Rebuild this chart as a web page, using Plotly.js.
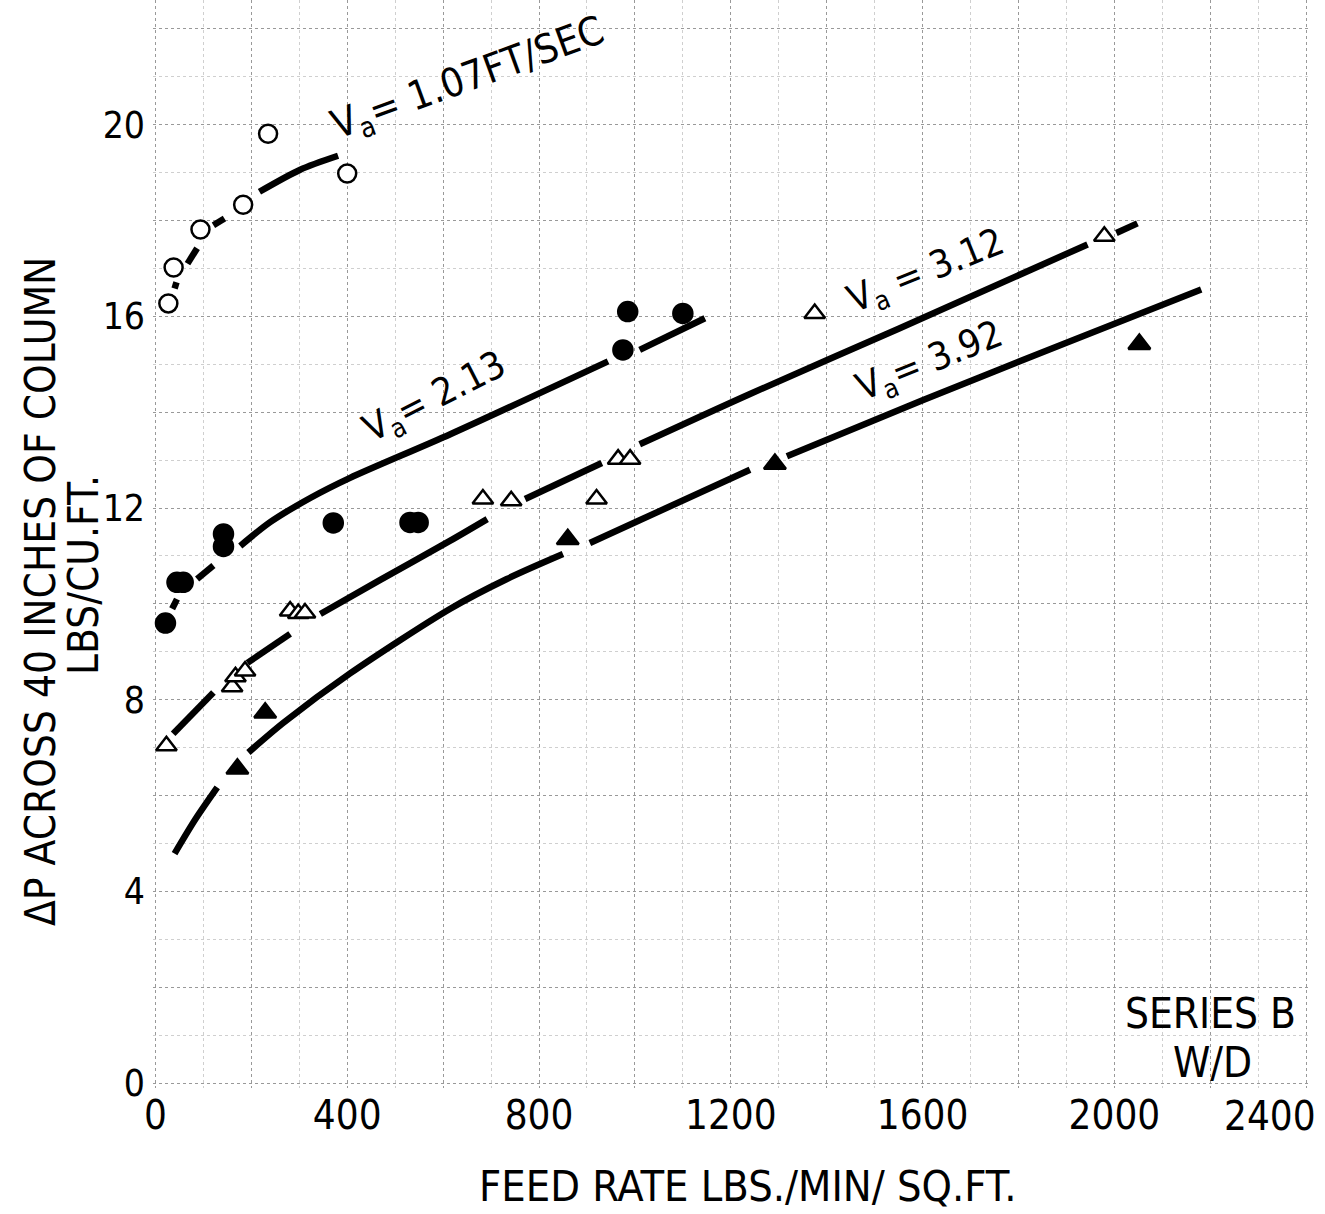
<!DOCTYPE html>
<html>
<head>
<meta charset="utf-8">
<script src="https://cdn.plot.ly/plotly-3.0.1.min.js"></script>
<style>html,body{margin:0;padding:0;background:#fff;}#chart{width:1325px;height:1214px;}</style>
</head>
<body>
<div id="chart"></div>
<script>
// ---- data ----
// Va = 1.07 ft/sec (open circles)
const va107X = [27, 38, 94, 183, 235, 400];
const va107Y = [16.27, 17.02, 17.81, 18.33, 19.81, 18.98];
const va107CurveX = [40, 44, null, 67, 87, null, 121, 144, null, 217, 302, 381];
const va107CurveY = [16.58, 16.71, null, 17.1, 17.42, null, 17.9, 18.04, null, 18.6, 19.06, 19.35];

// Va = 2.13 (filled circles)
const va213X = [21, 45, 58, 142, 142, 371, 531, 548, 975, 985, 1100];
const va213Y = [9.6, 10.45, 10.45, 11.46, 11.2, 11.69, 11.7, 11.7, 15.3, 16.1, 16.06];
const va213CurveX = [35, 45, null, 87, 121, null, 177, 240, 323, 406, 615, 944, null, 1010, 1146];
const va213CurveY = [9.9, 10.1, null, 10.52, 10.8, null, 11.21, 11.71, 12.21, 12.63, 13.54, 15.06, null, 15.3, 15.96];

// Va = 3.12 (open triangles)
const va312X = [23, 160, 167, 187, 281, 298, 312, 683, 742, 920, 965, 990, 1375, 1979];
const va312Y = [7.04, 8.27, 8.48, 8.6, 9.85, 9.8, 9.81, 12.19, 12.15, 12.19, 13.02, 13.02, 16.06, 17.67];
const va312CurveX = [37, 121, null, 192, 281, null, 344, 469, 615, 692, null, 771, 931, null, 1010, 1240, 1550, 1944, null, 2004, 2048];
const va312CurveY = [7.29, 8.15, null, 8.77, 9.375, null, 9.79, 10.5, 11.32, 11.77, null, 12.19, 12.94, null, 13.33, 14.38, 15.74, 17.5, null, 17.74, 17.94];

// Va = 3.92 (filled triangles)
const va392X = [171, 229, 860, 1292, 2052];
const va392Y = [6.56, 7.73, 11.35, 12.92, 15.42];
const va392CurveX = [40, 83, 129, null, 194, 267, 406, 615, 733, 850, null, 906, 1240, null, 1317, 1600, 1900, 2181];
const va392CurveY = [4.79, 5.5, 6.17, null, 6.9, 7.52, 8.55, 9.9, 10.52, 11.04, null, 11.27, 12.8, null, 13.08, 14.25, 15.45, 16.56];

const xTickVals = [0, 200, 400, 600, 800, 1000, 1200, 1400, 1600, 1800, 2000, 2200, 2400];
const xTickText = ['0', '', '400', '', '800', '', '1200', '', '1600', '', '2000', '', ''];
const xLastTickLabel = '2400';
const yTickVals = [0, 2, 4, 6, 8, 10, 12, 14, 16, 18, 20, 22];
const yTickText = ['0', '', '4', '', '8', '', '12', '', '16', '', '20', ''];

// ---- styling ----
const FONT = '"DejaVu Sans Condensed", "Liberation Sans Narrow", "DejaVu Sans", sans-serif';
const LW = 6.5;

function curve(x, y) {
  return {x: x, y: y, mode: 'lines', type: 'scatter', connectgaps: false,
    line: {color: '#000', width: LW, shape: 'spline', smoothing: 0.8}, hoverinfo: 'skip', showlegend: false};
}
function pts(x, y, symbol, fill, size) {
  return {x: x, y: y, mode: 'markers', type: 'scatter', showlegend: false,
    marker: {symbol: symbol, size: size, color: fill, line: {color: '#000', width: 2.5}}};
}

const traces = [
  curve(va107CurveX, va107CurveY),
  curve(va213CurveX, va213CurveY),
  curve(va312CurveX, va312CurveY),
  curve(va392CurveX, va392CurveY),
  pts(va107X, va107Y, 'circle', '#fff', 18),
  pts(va213X, va213Y, 'circle', '#000', 19),
  pts(va312X, va312Y, 'triangle-up', '#fff', 18),
  pts(va392X, va392Y, 'triangle-up', '#000', 19)
];

const W = 1325, H = 1214, ML = 153, MR = 14, MT = 0, MB = 126;
const PW = W - ML - MR, PH = H - MT - MB;
function px(xp) { return (xp - ML) / PW; }
function py(yp) { return (H - MB - yp) / PH; }

function label(text, x, y, size, angle) {
  return {text: text, xref: 'paper', yref: 'paper', x: px(x), y: py(y), textangle: angle || 0,
    showarrow: false, font: {size: size, family: FONT, color: '#000'}, xanchor: 'center', yanchor: 'middle'};
}

const layout = {
  width: W, height: H,
  margin: {l: ML, r: MR, t: MT, b: MB},
  paper_bgcolor: '#fff', plot_bgcolor: '#fff',
  font: {family: FONT, color: '#000'},
  xaxis: {
    range: [-5, 2410], tickvals: xTickVals, ticktext: xTickText,
    showgrid: true, gridcolor: '#999', gridwidth: 1, griddash: 'dot',
    minor: {dtick: 100, showgrid: true, gridcolor: '#cfcfcf', gridwidth: 1, griddash: 'dot'},
    zeroline: false, showline: false, ticks: '', ticklabelstandoff: 0,
    tickfont: {family: FONT, size: 40, color: '#000'}
  },
  yaxis: {
    range: [-0.1, 22.6], tickvals: yTickVals, ticktext: yTickText,
    showgrid: true, gridcolor: '#999', gridwidth: 1, griddash: 'dot',
    minor: {dtick: 1, showgrid: true, gridcolor: '#cfcfcf', gridwidth: 1, griddash: 'dot'},
    zeroline: false, showline: false, ticks: '', ticklabelstandoff: 7,
    tickfont: {family: FONT, size: 37, color: '#000'}
  },
  annotations: [
    label('ΔP ACROSS 40 INCHES OF COLUMN', 40, 592, 42, -90),
    label('LBS/CU.FT.', 83, 575, 42, -90),
    label('FEED RATE LBS./MIN/ SQ.FT.', 748, 1186, 43, 0),
    label(xLastTickLabel, 1270, 1116, 40, 0),
    label('SERIES B', 1210, 1013, 42, 0),
    label('W/D', 1212, 1062, 42, 0),
    label('V<sub>a</sub>= 1.07FT/SEC', 468, 80, 40, -20),
    label('V<sub>a</sub>= 2.13', 435, 398, 38, -27),
    label('V<sub>a</sub> = 3.12', 926, 272, 38, -22),
    label('V<sub>a</sub>= 3.92', 930, 362, 38, -22)
  ]
};

Plotly.newPlot('chart', traces, layout, {displayModeBar: false, staticPlot: true});
</script>
</body>
</html>
